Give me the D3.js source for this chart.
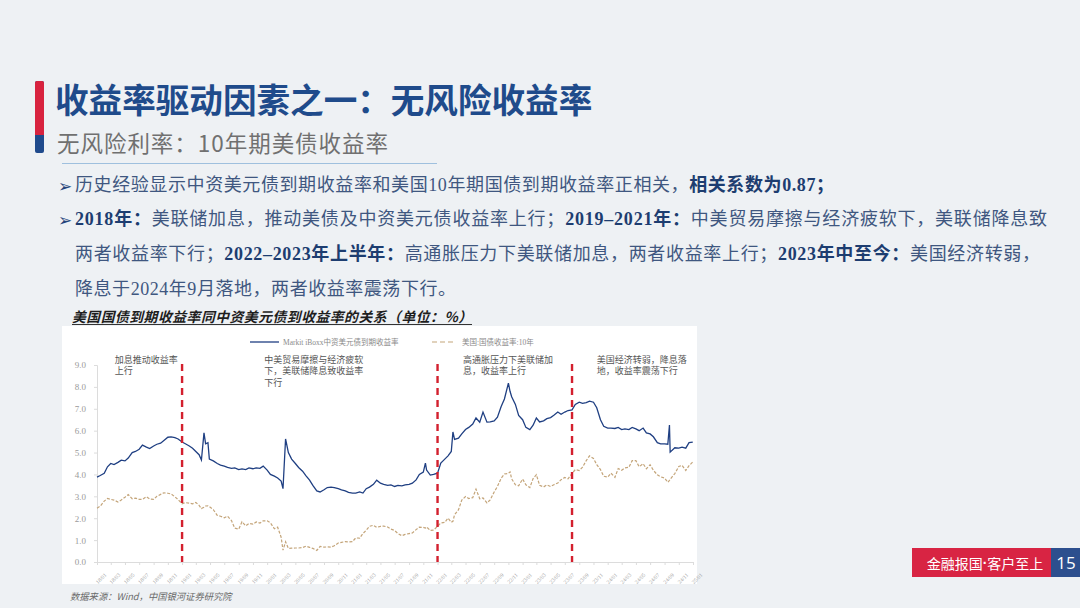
<!DOCTYPE html>
<html><head><meta charset="utf-8">
<script src="https://cdn.jsdelivr.net/npm/d3@7"></script>
<style>
html,body{margin:0;padding:0;background:#eef1f4;}
svg{display:block;}
</style></head><body>
<svg id="c" width="1080" height="608"></svg>
<script>
// ---------------- DATA ----------------
const dates = [
 // 2018
 "2018-01-01","2018-01-15","2018-02-01","2018-02-15","2018-03-01","2018-03-15","2018-04-01","2018-04-15","2018-05-01","2018-05-15","2018-06-01","2018-06-15",
 "2018-07-01","2018-07-15","2018-08-01","2018-08-15","2018-09-01","2018-09-15","2018-10-01","2018-10-15","2018-11-01","2018-11-15","2018-12-01","2018-12-15",
 // 2019
 "2019-01-01","2019-01-15","2019-02-01","2019-02-15","2019-03-01","2019-03-15","2019-03-25","2019-04-05","2019-04-12","2019-04-22","2019-04-28","2019-05-15",
 "2019-06-01","2019-06-15","2019-07-01","2019-07-15","2019-08-01","2019-08-15","2019-09-01","2019-09-15","2019-10-01","2019-10-15","2019-11-01","2019-11-15","2019-12-01","2019-12-15",
 // 2020
 "2020-01-01","2020-01-15","2020-02-01","2020-02-15","2020-03-01","2020-03-09","2020-03-20","2020-04-01","2020-04-15","2020-05-01","2020-05-15","2020-06-01","2020-06-15",
 "2020-07-01","2020-07-15","2020-08-01","2020-08-15","2020-09-01","2020-09-15","2020-10-01","2020-10-15","2020-11-01","2020-11-15","2020-12-01","2020-12-15",
 // 2021
 "2021-01-01","2021-01-15","2021-02-01","2021-02-15","2021-03-01","2021-03-15","2021-04-01","2021-04-15","2021-05-01","2021-05-15","2021-06-01","2021-06-15",
 "2021-07-01","2021-07-15","2021-08-01","2021-08-15","2021-09-01","2021-09-15","2021-10-01","2021-10-15","2021-11-01","2021-11-10","2021-11-15","2021-12-01","2021-12-15",
 // 2022
 "2022-01-01","2022-01-15","2022-02-01","2022-02-15","2022-03-01","2022-03-08","2022-03-15","2022-04-01","2022-04-15","2022-05-01","2022-05-15","2022-06-01","2022-06-15",
 "2022-07-01","2022-07-15","2022-08-01","2022-08-15","2022-09-01","2022-09-15","2022-10-01","2022-10-15","2022-11-01","2022-11-08","2022-11-15","2022-12-01","2022-12-15",
 // 2023
 "2023-01-01","2023-01-15","2023-02-01","2023-02-15","2023-03-01","2023-03-15","2023-04-01","2023-04-15","2023-05-01","2023-05-15","2023-06-01","2023-06-15",
 "2023-07-01","2023-07-15","2023-08-01","2023-08-15","2023-09-01","2023-09-15","2023-10-01","2023-10-15","2023-11-01","2023-11-15","2023-12-01","2023-12-15",
 // 2024
 "2024-01-01","2024-01-15","2024-02-01","2024-02-15","2024-03-01","2024-03-15","2024-04-01","2024-04-15","2024-05-01","2024-05-15","2024-06-01","2024-06-15",
 "2024-07-01","2024-07-15","2024-08-01","2024-08-15","2024-09-01","2024-09-15","2024-09-22","2024-09-25","2024-10-15","2024-11-01","2024-11-15","2024-12-01","2024-12-15","2024-12-31"
];
const iboxx = [
 3.88,3.95,4.05,4.35,4.50,4.45,4.55,4.65,4.62,4.75,5.00,5.05,
 5.15,5.34,5.25,5.18,5.30,5.38,5.43,5.55,5.70,5.72,5.68,5.62,
 5.48,5.40,5.30,5.20,5.05,4.90,4.66,5.90,5.40,5.45,4.70,4.62,
 4.50,4.43,4.38,4.32,4.28,4.30,4.22,4.25,4.22,4.30,4.26,4.30,4.28,4.38,
 4.20,4.00,3.92,3.84,3.70,3.35,5.62,5.00,4.70,4.50,4.32,4.15,3.95,
 3.74,3.50,3.25,3.20,3.30,3.40,3.42,3.40,3.35,3.30,3.25,3.18,
 3.15,3.15,3.20,3.15,3.35,3.42,3.55,3.74,3.60,3.55,3.50,3.52,
 3.45,3.50,3.48,3.52,3.55,3.60,3.75,4.00,4.11,4.52,4.20,3.97,4.00,
 4.06,4.52,4.70,4.85,5.05,5.94,5.60,5.66,5.85,6.05,6.15,6.30,6.58,
 6.39,6.85,6.39,6.40,6.45,6.62,7.10,7.45,8.17,7.80,7.55,7.20,6.70,
 6.50,6.15,6.05,6.25,6.58,6.40,6.45,6.55,6.60,6.70,6.85,6.75,
 6.85,6.92,6.95,7.20,7.30,7.25,7.28,7.35,7.30,7.05,6.50,6.20,
 6.12,6.12,6.10,6.15,6.05,6.08,6.05,6.15,6.08,6.00,6.12,5.90,
 5.85,5.72,5.45,5.40,5.40,5.38,6.26,5.02,5.22,5.20,5.25,5.20,5.45,5.48
];
const ust10y = [
 2.46,2.55,2.78,2.90,2.86,2.83,2.74,2.83,2.96,3.08,2.89,2.92,
 2.86,2.86,2.98,2.88,2.86,3.00,3.09,3.16,3.14,3.11,2.98,2.85,
 2.66,2.71,2.69,2.66,2.72,2.59,2.44,2.50,2.56,2.57,2.53,2.39,
 2.13,2.09,2.02,2.09,1.89,1.55,1.50,1.84,1.65,1.76,1.73,1.83,1.78,1.88,
 1.88,1.79,1.52,1.59,1.13,0.54,0.92,0.62,0.63,0.64,0.64,0.66,0.72,
 0.67,0.62,0.53,0.71,0.68,0.69,0.68,0.74,0.87,0.90,0.93,0.92,
 0.93,1.10,1.09,1.30,1.45,1.63,1.68,1.58,1.63,1.64,1.60,1.50,
 1.44,1.30,1.20,1.26,1.30,1.33,1.48,1.59,1.58,1.55,1.60,1.44,1.46,
 1.63,1.78,1.81,2.00,1.82,1.86,2.16,2.39,2.83,2.99,2.90,2.94,3.33,
 2.89,2.93,2.70,2.84,3.20,3.45,3.83,4.02,4.05,4.12,3.80,3.53,3.48,
 3.79,3.53,3.40,3.81,3.99,3.50,3.43,3.52,3.45,3.53,3.61,3.76,
 3.86,3.80,4.05,4.22,4.18,4.33,4.63,4.85,4.73,4.45,4.22,3.92,
 3.88,4.06,3.87,4.27,4.19,4.30,4.33,4.63,4.63,4.35,4.49,4.26,
 4.44,4.19,3.98,3.89,3.84,3.64,3.73,3.78,4.04,4.36,4.42,4.18,4.40,4.57
];
const seriesNames = ["Markit iBoxx中资美元债到期收益率","美国:国债收益率:10年"];
const yTicks = [0,1,2,3,4,5,6,7,8,9];
const xDomain = ["2018-01-01","2025-01-01"];
const eventDates = ["2019-01-01","2022-01-01","2023-08-01"];
const annotationTexts = [
 ["加息推动收益率","上行"],
 ["中美贸易摩擦与经济疲软","下，美联储降息致收益率","下行"],
 ["高通胀压力下美联储加","息，收益率上行"],
 ["美国经济转弱，降息落","地，收益率震荡下行"]
];
const annotationDates = ["2018-03-18","2019-12-20","2022-04-20","2023-11-15"];

const pageTitle = "收益率驱动因素之一：无风险收益率";
const pageSubtitle = "无风险利率：10年期美债收益率";
const bodyLines = [
 [["历史经验显示中资美元债到期收益率和美国10年期国债到期收益率正相关，",0],["相关系数为0.87；",1]],
 [["2018年：",1],["美联储加息，推动美债及中资美元债收益率上行；",0],["2019–2021年：",1],["中美贸易摩擦与经济疲软下，美联储降息致",0]],
 [["两者收益率下行；",0],["2022–2023年上半年：",1],["高通胀压力下美联储加息，两者收益率上行；",0],["2023年中至今：",1],["美国经济转弱，",0]],
 [["降息于2024年9月落地，两者收益率震荡下行。",0]]
];
const chartTitle = "美国国债到期收益率同中资美元债到收益率的关系（单位：%）";
const sourceText = "数据来源：Wind，中国银河证券研究院";
const footerParts = ["金融报国","·","客户至上"];
const pageNumber = "15";

// ---------------- DRAW ----------------
const svg = d3.select("#c");
const CJK = '"Noto Sans CJK SC","Noto Sans",sans-serif';
const MIX = '"Liberation Serif","Noto Sans CJK SC",serif';

svg.append("rect").attr("width",1080).attr("height",608).attr("fill","#eef1f4");

// accent bar
svg.append("rect").attr("x",35).attr("y",81).attr("width",9).attr("height",72).attr("rx",2).attr("fill","#1f4a8c");
svg.append("rect").attr("x",35).attr("y",81).attr("width",9).attr("height",54).attr("rx",2).attr("fill","#d8233f");
svg.append("rect").attr("x",35).attr("y",128).attr("width",9).attr("height",7).attr("fill","#d8233f");

svg.append("text").attr("x",55).attr("y",98).attr("dominant-baseline","central")
  .attr("font-family",CJK).attr("font-weight",700).attr("font-size",33.6).attr("fill","#1f4b8b")
  .text(pageTitle);
const st = svg.append("text").attr("x",57).attr("y",142).attr("dominant-baseline","central")
  .attr("font-family",CJK).attr("font-weight",400).attr("font-size",22.5).attr("fill","#707070")
  .text(pageSubtitle);
{
  const natural = st.node().getComputedTextLength();
  st.attr("letter-spacing",(331-natural)/(pageSubtitle.length-1));
}
svg.append("line").attr("x1",62).attr("x2",437).attr("y1",163.5).attr("y2",163.5)
  .attr("stroke","#9fc0de").attr("stroke-width",1);

// body text
const lineY = [185,219,254,289];
const justifyTo = [834,1047,1040,456];
bodyLines.forEach((parts,i)=>{
  if(i<2){
    svg.append("text").attr("x",58).attr("y",lineY[i]+1).attr("dominant-baseline","central")
      .attr("font-family",'"DejaVu Sans"').attr("font-weight",700).attr("font-size",17).attr("fill","#24447a").text("➢");
  }
  const t = svg.append("text").attr("x",75).attr("y",lineY[i]).attr("dominant-baseline","central")
    .attr("font-family",MIX).attr("font-size",18);
  parts.forEach(p=>{
    t.append("tspan").text(p[0]).attr("font-weight",p[1]?700:400).attr("fill",p[1]?"#1d3d70":"#3f5780");
  });
  const natural = t.node().getComputedTextLength();
  const n = parts.map(p=>p[0]).join("").length;
  t.attr("letter-spacing",(justifyTo[i]-75-natural)/(n-1));
});

// chart title
const ct = svg.append("text").attr("x",72).attr("y",316).attr("dominant-baseline","central")
  .attr("font-family",CJK).attr("font-weight",700).attr("font-style","italic")
  .attr("font-size",13.8).attr("fill","#1e1e1e").text(chartTitle);
{
  const natural = ct.node().getComputedTextLength();
  ct.attr("letter-spacing",(400-natural)/(chartTitle.length-1));
}
svg.append("line").attr("x1",72).attr("x2",472).attr("y1",324.5).attr("y2",324.5).attr("stroke","#333").attr("stroke-width",1);

// chart panel
svg.append("rect").attr("x",62).attr("y",326).attr("width",635).attr("height",258).attr("fill","#ffffff");

const parse = d3.timeParse("%Y-%m-%d");
const x = d3.scaleTime().domain(xDomain.map(parse)).range([97,693]);
const y = d3.scaleLinear().domain([0,9]).range([562,365]);

// y axis
const ya = svg.append("g").attr("transform","translate(97,0)")
  .call(d3.axisLeft(y).tickValues(yTicks).tickFormat(d3.format(".1f")).tickSize(3).tickPadding(8));
ya.select(".domain").attr("stroke","#dcdcdc");
ya.selectAll(".tick line").attr("stroke","#dcdcdc");
ya.selectAll("text").attr("font-family",'"Liberation Serif",serif').attr("font-size",9).attr("fill","#9a9a9a");

// x axis
const xa = svg.append("g").attr("transform","translate(0,562)")
  .call(d3.axisBottom(x).ticks(d3.timeMonth.every(2)).tickFormat(d3.timeFormat("%y/%m")).tickSize(3).tickSizeOuter(0));
xa.select(".domain").attr("stroke","#dcdcdc");
xa.selectAll(".tick line").attr("stroke","#dcdcdc");
xa.selectAll("text").attr("font-family",'"Liberation Serif",serif').attr("font-size",5.5).attr("fill","#a0a0a0")
  .attr("text-anchor","end").attr("transform","translate(4,8) rotate(-45)").attr("dy","0.3em");

// lines
const pts = dates.map((d,i)=>({d:parse(d),a:iboxx[i],b:ust10y[i]}));
svg.append("path").datum(pts)
  .attr("d",d3.line().x(p=>x(p.d)).y(p=>y(p.b)))
  .attr("fill","none").attr("stroke","#c4a57a").attr("stroke-width",1.2).attr("stroke-dasharray","3,1.6");
svg.append("path").datum(pts)
  .attr("d",d3.line().x(p=>x(p.d)).y(p=>y(p.a)))
  .attr("fill","none").attr("stroke","#1f3f82").attr("stroke-width",1.3);

// event lines
svg.selectAll(".ev").data(eventDates).enter().append("line")
  .attr("x1",d=>x(parse(d))).attr("x2",d=>x(parse(d)))
  .attr("y1",y(9)-1).attr("y2",y(0))
  .attr("stroke","#d3202e").attr("stroke-width",2.4).attr("stroke-dasharray","7,5");

// annotations
annotationTexts.forEach((lines,i)=>{
  const ax = x(parse(annotationDates[i]));
  lines.forEach((s,j)=>{
    svg.append("text").attr("x",ax).attr("y",359+j*11.5).attr("dominant-baseline","central")
      .attr("font-family",CJK).attr("font-size",9).attr("fill","#555").text(s);
  });
});

// legend
svg.append("line").attr("x1",250).attr("x2",279).attr("y1",342).attr("y2",342).attr("stroke","#1f3f82").attr("stroke-width",1.3);
svg.append("text").attr("x",283).attr("y",342).attr("dominant-baseline","central")
  .attr("font-family",MIX).attr("font-size",7.5).attr("fill","#8a8a8a").text(seriesNames[0]);
svg.append("line").attr("x1",432).attr("x2",456).attr("y1",342).attr("y2",342).attr("stroke","#c4a57a").attr("stroke-width",1.2).attr("stroke-dasharray","5,3");
svg.append("text").attr("x",462).attr("y",342).attr("dominant-baseline","central")
  .attr("font-family",MIX).attr("font-size",7.5).attr("fill","#8a8a8a").text(seriesNames[1]);

// source
svg.append("text").attr("x",70).attr("y",596).attr("dominant-baseline","central")
  .attr("font-family",CJK).attr("font-style","italic").attr("font-size",9.3).attr("fill","#6a6a6a").text(sourceText);

// footer badge
svg.append("rect").attr("x",912).attr("y",548).attr("width",139).attr("height",29).attr("fill","#d82443");
svg.append("rect").attr("x",1051).attr("y",548).attr("width",29).attr("height",29).attr("fill","#2d4f8e");
const ft = svg.append("text").attr("x",985).attr("y",562.5).attr("dominant-baseline","central").attr("text-anchor","middle")
  .attr("font-family",CJK).attr("font-size",14).attr("fill","#fff");
ft.append("tspan").text(footerParts[0]);
ft.append("tspan").attr("font-family",'"Liberation Sans",sans-serif').attr("font-weight",700).text(footerParts[1]);
ft.append("tspan").text(footerParts[2]);
svg.append("text").attr("x",1066).attr("y",562.5).attr("dominant-baseline","central").attr("text-anchor","middle")
  .attr("font-family",'"Open Sans",sans-serif').attr("font-size",17).attr("fill","#fff").text(pageNumber);
</script>
</body></html>
